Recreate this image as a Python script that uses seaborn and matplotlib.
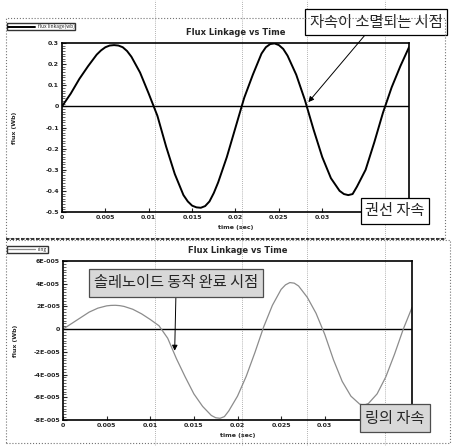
import numpy as np
import pandas as pd
import matplotlib
matplotlib.use("Agg")
import matplotlib.pyplot as plt
from matplotlib.lines import Line2D
from matplotlib.patches import Rectangle
import seaborn as sns

# values (extra points around the peaks)
coil_time = [0.000, 0.001, 0.002, 0.003, 0.004, 0.0045, 0.005, 0.0055, 0.006, 0.0065,
             0.007, 0.0075, 0.008, 0.009, 0.010, 0.011, 0.012, 0.013, 0.014, 0.0145,
             0.015, 0.0155, 0.016, 0.0165, 0.017, 0.0175, 0.018, 0.019, 0.020, 0.021,
             0.022, 0.023, 0.0235, 0.024, 0.0245, 0.025, 0.0255, 0.026, 0.027, 0.028,
             0.029, 0.030, 0.031, 0.032, 0.0325, 0.033, 0.0335, 0.034, 0.035, 0.036,
             0.037, 0.038, 0.039, 0.040]
coil_flux = [0.00, 0.06, 0.13, 0.19, 0.245, 0.265, 0.28, 0.288, 0.29, 0.288,
             0.28, 0.262, 0.235, 0.16, 0.06, -0.045, -0.19, -0.32, -0.42, -0.45,
             -0.47, -0.478, -0.48, -0.472, -0.45, -0.41, -0.36, -0.24, -0.10, 0.04,
             0.15, 0.25, 0.28, 0.295, 0.298, 0.29, 0.272, 0.24, 0.15, 0.03,
             -0.11, -0.24, -0.34, -0.40, -0.415, -0.42, -0.415, -0.38, -0.30, -0.17,
             -0.03, 0.09, 0.19, 0.28]
ring_time = [0.000, 0.001, 0.002, 0.003, 0.004, 0.005, 0.0055, 0.006, 0.0065, 0.007,
             0.008, 0.009, 0.010, 0.011, 0.012, 0.013, 0.014, 0.015, 0.016, 0.017,
             0.0175, 0.018, 0.0185, 0.019, 0.020, 0.021, 0.022, 0.023, 0.024, 0.025,
             0.0255, 0.026, 0.0265, 0.027, 0.028, 0.029, 0.030, 0.031, 0.032, 0.033,
             0.034, 0.0345, 0.035, 0.036, 0.037, 0.038, 0.039, 0.040]
ring_flux = [0.0, 0.5, 1.0, 1.5, 1.85, 2.05, 2.09, 2.1, 2.07, 2.0,
             1.75, 1.35, 0.85, 0.3, -0.8, -2.6, -4.2, -5.7, -6.8, -7.6,
             -7.8, -7.85, -7.7, -7.2, -5.9, -4.15, -2.05, 0.2, 2.1, 3.5,
             3.9, 4.1, 4.05, 3.8, 2.8, 1.4, -0.46, -2.7, -4.6, -5.9,
             -6.6, -6.7, -6.55, -5.7, -4.2, -2.2, 0.0, 1.9]
ring_flux = [v * 1e-5 for v in ring_flux]

top_yticks = [0.3, 0.2, 0.1, 0, -0.1, -0.2, -0.3, -0.4, -0.5]
bot_yticks = [6e-5, 4e-5, 2e-5, 0, -2e-5, -4e-5, -6e-5, -8e-5]
bot_ylabels = ["6E-005", "4E-005", "2E-005", "0", "-2E-005", "-4E-005", "-6E-005", "-8E-005"]
xticks = [0, 0.005, 0.01, 0.015, 0.02, 0.025, 0.03]
xlabels = ["0", "0.005", "0.01", "0.015", "0.02", "0.025", "0.03"]
marker_times = [0.0107, 0.0207, 0.0282, 0.0372]

coil = pd.DataFrame({"time": coil_time, "flux": coil_flux})
ring = pd.DataFrame({"time": ring_time, "flux": ring_flux})

sns.set_style("white")
plt.rcParams["font.family"] = ["Noto Sans CJK KR", "DejaVu Sans"]

W, H = 464, 446
fig = plt.figure(figsize=(W / 100, H / 100), dpi=100)


def fx(px):
    return px / W


def fy(py):
    return 1 - py / H


def box(x0, y0, x1, y1):
    return [fx(x0), fy(y1), fx(x1) - fx(x0), fy(y0) - fy(y1)]


# window frames of the scanned screenshot
fig.add_artist(Rectangle((fx(6), fy(238)), fx(445) - fx(6), fy(18) - fy(238),
                         transform=fig.transFigure, fill=False, ls=":", lw=0.8, ec="0.45"))
fig.add_artist(Rectangle((fx(6), fy(443)), fx(450) - fx(6), fy(240) - fy(443),
                         transform=fig.transFigure, fill=False, ls=":", lw=0.8, ec="0.45"))
fig.add_artist(Line2D([fx(6), fx(445)], [fy(239), fy(239)], transform=fig.transFigure,
                      color="0.1", lw=1.2, ls=(0, (2, 1))))

ax1 = fig.add_axes(box(62, 43, 409, 212))
ax2 = fig.add_axes(box(63, 261, 412, 420))

sns.lineplot(data=coil, x="time", y="flux", ax=ax1, color="black", lw=1.4,
             label="flux linkage(wb)", legend=False)
sns.lineplot(data=ring, x="time", y="flux", ax=ax2, color="0.55", lw=0.9,
             label="ring", legend=False)

for ax, yt, ylab, lo, hi in [(ax1, top_yticks, [f"{v:g}" for v in top_yticks], -0.5, 0.3),
                             (ax2, bot_yticks, bot_ylabels, -8e-5, 6e-5)]:
    ax.set_facecolor("none")
    ax.set_xlim(0, 0.04)
    ax.set_ylim(lo, hi)
    ax.axhline(0, color="black", lw=1.0, zorder=1)
    ax.set_xticks(xticks)
    ax.set_xticklabels(xlabels, fontsize=4.5, fontweight="bold", family="DejaVu Sans")
    ax.set_yticks(yt)
    ax.set_yticklabels(ylab, fontsize=4.5, fontweight="bold", family="DejaVu Sans")
    ax.yaxis.set_minor_locator(matplotlib.ticker.AutoMinorLocator(8))
    ax.tick_params(axis="both", which="major", direction="in", length=3, width=0.8,
                   pad=2, left=True, bottom=True)
    ax.tick_params(axis="y", which="minor", direction="in", length=2, width=0.5, left=True)
    for s in ax.spines.values():
        s.set_color("black")
        s.set_linewidth(1.2)
    ax.set_xlabel("time (sec)", fontsize=4.5, fontweight="bold", family="DejaVu Sans", labelpad=4)
    ax.set_ylabel("flux (Wb)", fontsize=4.5, fontweight="bold", family="DejaVu Sans")
    ax.yaxis.set_label_coords(-0.13, 0.5)
    ax.set_title("Flux Linkage vs Time", fontsize=6, fontweight="bold",
                 family="DejaVu Sans", pad=6)

# legends in the window corners
fig.legend(handles=[ax1.get_lines()[0]], loc="upper left", bbox_to_anchor=(fx(7), fy(23)),
           fontsize=3.5, frameon=True, fancybox=False, edgecolor="black",
           handlelength=5.5, borderpad=0.2, handletextpad=0.6, borderaxespad=0)
fig.legend(handles=[ax2.get_lines()[0]], loc="upper left", bbox_to_anchor=(fx(7), fy(246)),
           fontsize=3.5, frameon=True, fancybox=False, edgecolor="black",
           handlelength=5.5, borderpad=0.2, handletextpad=0.6, borderaxespad=0)

# vertical markers through both windows
for t in marker_times:
    px = 62 + t / 0.04 * (409 - 62)
    fig.add_artist(Line2D([fx(px), fx(px)], [fy(446), fy(0)], transform=fig.transFigure,
                          color="0.6", lw=0.6, ls=(0, (1, 1.5)), zorder=0))

# annotation boxes
kr = ["Noto Sans CJK KR", "DejaVu Sans"]
ax1.annotate("자속이 소멸되는 시점", xy=(0.0284, 0.02), xycoords="data",
             xytext=(fx(376), fy(22)), textcoords="figure fraction",
             ha="center", va="center", fontsize=11, family=kr,
             bbox=dict(boxstyle="square,pad=0.3", fc="white", ec="black", lw=0.9),
             arrowprops=dict(arrowstyle="-|>", color="black", lw=0.7,
                             mutation_scale=8, shrinkA=0, shrinkB=0))
fig.text(fx(395), fy(211), "권선 자속", ha="center", va="center", fontsize=11, family=kr,
         bbox=dict(boxstyle="square,pad=0.3", fc="white", ec="black", lw=0.9))
ax2.annotate("솔레노이드 동작 완료 시점", xy=(0.0128, -1.9e-5), xycoords="data",
             xytext=(fx(176), fy(283)), textcoords="figure fraction",
             ha="center", va="center", fontsize=11, family=kr,
             bbox=dict(boxstyle="square,pad=0.35", fc="#d8d8d8", ec="0.3", lw=0.9),
             arrowprops=dict(arrowstyle="-|>", color="black", lw=0.7,
                             mutation_scale=8, shrinkA=0, shrinkB=0,
                             relpos=(0.5, 0)))
fig.text(fx(395), fy(418), "링의 자속", ha="center", va="center", fontsize=11, family=kr,
         bbox=dict(boxstyle="square,pad=0.35", fc="#d8d8d8", ec="0.3", lw=0.9))

fig.savefig("out.png", dpi=100)
